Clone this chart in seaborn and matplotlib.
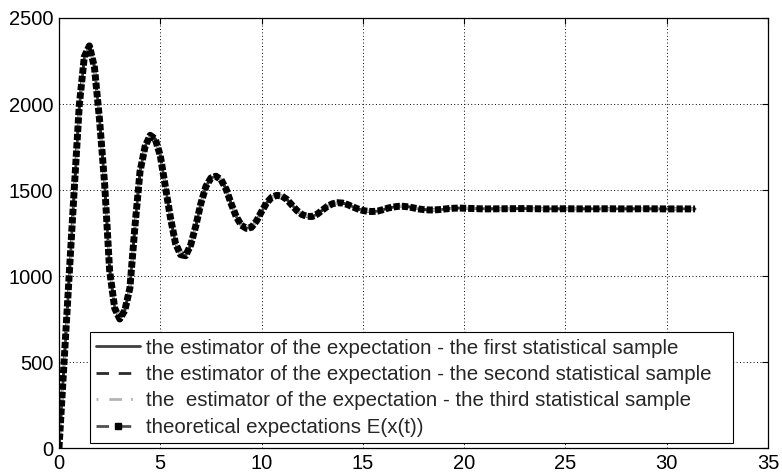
import matplotlib
matplotlib.use("Agg")
import matplotlib.pyplot as plt
from matplotlib.lines import Line2D
import seaborn as sns
import pandas as pd

# ---------------- data ----------------
t = [0.0, 0.25, 0.5, 0.75, 1.0, 1.25, 1.5, 1.75, 2.0, 2.25, 2.5, 2.75, 3.0, 3.25, 3.5, 3.75,
     4.0, 4.25, 4.5, 4.75, 5.0, 5.25, 5.5, 5.75, 6.0, 6.25, 6.5, 6.75, 7.0, 7.25, 7.5, 7.75,
     8.0, 8.25, 8.5, 8.75, 9.0, 9.25, 9.5, 9.75, 10.0, 10.25, 10.5, 10.75, 11.0, 11.25, 11.5, 11.75,
     12.0, 12.25, 12.5, 12.75, 13.0, 13.25, 13.5, 13.75, 14.0, 14.25, 14.5, 14.75, 15.0, 15.25, 15.5, 15.75,
     16.0, 16.25, 16.5, 16.75, 17.0, 17.25, 17.5, 17.75, 18.0, 18.25, 18.5, 18.75, 19.0, 19.25, 19.5, 19.75,
     20.0, 21.0, 22.0, 23.0, 24.0, 25.0, 26.0, 27.0, 28.0, 29.0, 30.0, 31.0, 31.4]

theory = [0, 500, 1000, 1500, 1990, 2275, 2338, 2213, 1910, 1540, 1030, 812, 750, 800, 930, 1290,
          1608, 1753, 1818, 1797, 1700, 1520, 1340, 1190, 1124, 1118, 1180, 1290, 1420, 1520, 1570, 1580,
          1560, 1505, 1420, 1345, 1295, 1277, 1283, 1320, 1375, 1425, 1458, 1469, 1465, 1445, 1412, 1380,
          1357, 1347, 1346, 1360, 1383, 1405, 1420, 1426, 1424, 1415, 1402, 1390, 1381, 1376, 1375, 1378,
          1386, 1395, 1401, 1405, 1405, 1402, 1396, 1390, 1386, 1384, 1384, 1386, 1389, 1392, 1394, 1395,
          1394, 1390, 1391, 1392, 1390, 1391, 1390, 1391, 1390, 1391, 1390, 1390, 1390]

est1 = [0, 480, 980, 1480, 1970, 2270, 2340, 2218, 1915, 1545, 1040, 815, 752, 802, 932, 1288,
        1605, 1752, 1817, 1798, 1702, 1522, 1342, 1192, 1125, 1118, 1179, 1288, 1418, 1519, 1569, 1580,
        1561, 1506, 1421, 1346, 1296, 1277, 1283, 1319, 1374, 1424, 1457, 1469, 1466, 1446, 1413, 1381,
        1358, 1347, 1346, 1359, 1382, 1404, 1419, 1426, 1424, 1416, 1403, 1391, 1382, 1376, 1375, 1377,
        1385, 1394, 1400, 1405, 1406, 1403, 1397, 1391, 1387, 1384, 1384, 1385, 1388, 1391, 1393, 1395,
        1394, 1391, 1390, 1392, 1391, 1390, 1391, 1390, 1391, 1390, 1390, 1391, 1390]

est2 = [0, 490, 990, 1490, 1980, 2272, 2339, 2215, 1912, 1542, 1035, 813, 751, 801, 931, 1289,
        1607, 1753, 1818, 1797, 1701, 1521, 1341, 1191, 1124, 1118, 1180, 1289, 1419, 1520, 1570, 1580,
        1560, 1505, 1420, 1345, 1295, 1277, 1283, 1320, 1375, 1425, 1458, 1469, 1465, 1445, 1412, 1380,
        1357, 1347, 1346, 1360, 1383, 1405, 1420, 1426, 1424, 1415, 1402, 1390, 1381, 1376, 1375, 1378,
        1386, 1395, 1401, 1405, 1405, 1402, 1396, 1390, 1386, 1384, 1384, 1386, 1389, 1392, 1394, 1395,
        1394, 1390, 1391, 1392, 1390, 1391, 1390, 1391, 1390, 1391, 1390, 1390, 1390]

est3 = [0, 440, 930, 1420, 1930, 2250, 2335, 2228, 1935, 1572, 1065, 825, 756, 796, 920, 1275,
        1598, 1748, 1816, 1800, 1708, 1530, 1350, 1198, 1128, 1116, 1174, 1280, 1410, 1514, 1567, 1580,
        1563, 1510, 1427, 1350, 1298, 1278, 1281, 1316, 1370, 1421, 1455, 1468, 1466, 1447, 1415, 1383,
        1359, 1348, 1345, 1358, 1381, 1403, 1418, 1425, 1425, 1417, 1404, 1392, 1382, 1377, 1375, 1377,
        1384, 1393, 1400, 1404, 1406, 1403, 1398, 1392, 1387, 1385, 1384, 1385, 1388, 1391, 1393, 1395,
        1395, 1391, 1391, 1391, 1390, 1391, 1391, 1390, 1390, 1391, 1391, 1390, 1390]

x_ticks = [0, 5, 10, 15, 20, 25, 30, 35]
y_ticks = [0, 500, 1000, 1500, 2000, 2500]

labels = [
    "the estimator of the expectation - the first statistical sample",
    "the estimator of the expectation - the second statistical sample",
    "the  estimator of the expectation - the third statistical sample",
    "theoretical expectations E(x(t))",
]

# ---------------- style ----------------
sns.set_style("white")
plt.rcParams["font.family"] = ["Liberation Sans", "DejaVu Sans"]
plt.rcParams["font.size"] = 14.5

fig = plt.figure(figsize=(7.82, 4.73), dpi=100)
ax = fig.add_axes([59 / 782, 25 / 473, 709 / 782, 430 / 473])

df = pd.DataFrame({"t": t, "est1": est1, "est2": est2, "est3": est3, "theory": theory})

c1, c2, c3, c4 = "#3f3f3f", "#2b2b2b", "#b4b4b4", "#505050"
sty1 = dict(color=c1, lw=2.0, linestyle="-")
sty2 = dict(color=c2, lw=2.0, linestyle=(0, (4.5, 3.5)))
sty3 = dict(color=c3, lw=2.0, linestyle=(0, (0.7, 3.9, 4.6, 3.2)))

sns.lineplot(data=df, x="t", y="est1", ax=ax, sort=False, **sty1)
sns.lineplot(data=df, x="t", y="est2", ax=ax, sort=False, **sty2)
sns.lineplot(data=df, x="t", y="est3", ax=ax, sort=False, **sty3)
# theoretical curve: dense square markers rendered as a square-dotted thick line
sns.lineplot(data=df, x="t", y="theory", ax=ax, sort=False, color="black", lw=5.0,
             linestyle=(0, (0.9, 0.3)), dash_capstyle="butt")

ax.set_xlim(0, 35)
ax.set_ylim(0, 2500)
ax.set_xticks(x_ticks)
ax.set_yticks(y_ticks)
ax.set_xticklabels([str(v) for v in x_ticks])
ax.set_yticklabels([str(v) for v in y_ticks])
ax.set_xlabel("")
ax.set_ylabel("")
ax.grid(True, linestyle=(0, (1, 2.5)), color="black", lw=0.7)
ax.tick_params(direction="in", length=4, width=0.8, top=True, right=True,
               labelsize=14.5, pad=4, colors="black")
for s in ax.spines.values():
    s.set_visible(True)
    s.set_color("black")
    s.set_linewidth(0.9)

handles = [
    Line2D([], [], **sty1),
    Line2D([], [], **sty2),
    Line2D([], [], **sty3),
    Line2D([], [], color=c4, lw=2.0, linestyle=(0, (4.5, 3.5)), marker="s",
           markersize=4.5, markerfacecolor="black", markeredgecolor="black"),
]
leg = ax.legend(handles, labels, loc="lower left",
                bbox_to_anchor=(31 / 709, 5 / 430, 643 / 709, 0.2), mode="expand",
                borderaxespad=0, frameon=True, fancybox=False, framealpha=1,
                edgecolor="black", fontsize=14.8, handlelength=2.15, handletextpad=0.25,
                labelspacing=0.36, borderpad=0.3)
leg.get_frame().set_linewidth(0.8)

fig.savefig("out.png", dpi=100)
